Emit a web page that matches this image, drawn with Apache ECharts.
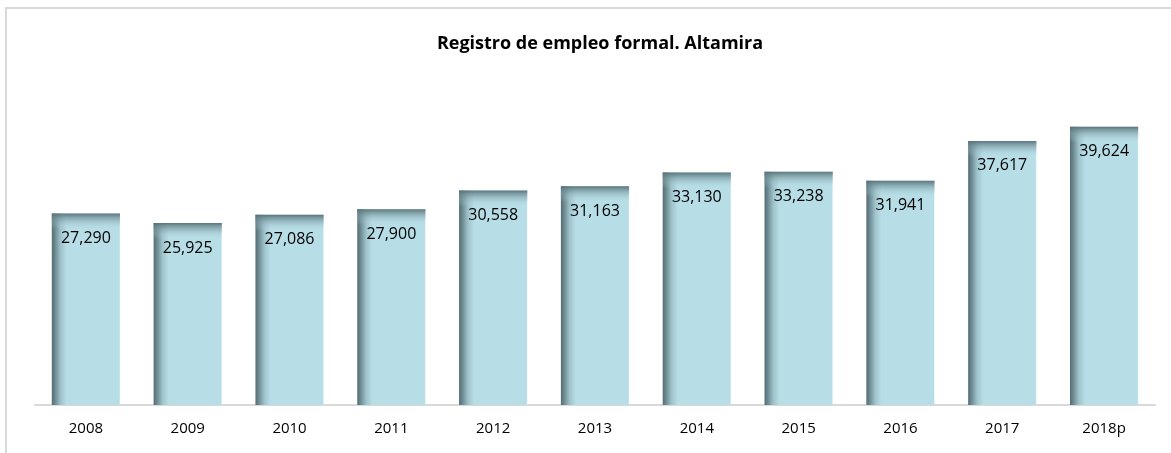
<!DOCTYPE html>
<html>
<head>
<meta charset="utf-8">
<script src="https://cdn.jsdelivr.net/npm/echarts@6/dist/echarts.min.js"></script>
<style>
  html, body { margin: 0; padding: 0; background: #ffffff; }
  #chart { width: 1171px; height: 453px; }
</style>
</head>
<body>
<div id="chart"></div>
<script>
// Formal employment records, Altamira
const years = ['2008', '2009', '2010', '2011', '2012', '2013', '2014', '2015', '2016', '2017', '2018p'];
const empleo = [27290, 25925, 27086, 27900, 30558, 31163, 33130, 33238, 31941, 37617, 39624];

const fmt = v => v.toLocaleString('en-US');
const FONT = '"Open Sans", "Noto Sans", sans-serif';

const chart = echarts.init(document.getElementById('chart'), null, { renderer: 'canvas' });

// Bars with a shaded left edge and a darker bevelled top
function renderBar(params, api) {
  const idx = api.value(0);
  const val = api.value(1);
  const top = api.coord([idx, val]);
  const base = api.coord([idx, 0]);
  const w = api.size([1, 0])[0] * 0.67;
  const x = top[0] - w / 2;
  const h = base[1] - top[1];
  return {
    type: 'group',
    children: [
      {
        type: 'rect',
        shape: { x: x, y: top[1], width: w, height: h },
        style: {
          fill: new echarts.graphic.LinearGradient(0, 0, 1, 0, [
            { offset: 0, color: '#536c74' },
            { offset: 0.05, color: '#6e8b92' },
            { offset: 0.13, color: '#9fc3cb' },
            { offset: 0.22, color: '#b7dde6' },
            { offset: 0.985, color: '#b7dde6' },
            { offset: 1, color: '#d3eef3' }
          ])
        }
      },
      {
        type: 'rect',
        shape: { x: x, y: top[1], width: w, height: 16 },
        style: {
          fill: new echarts.graphic.LinearGradient(0, 0, 0, 1, [
            { offset: 0, color: 'rgba(86,112,120,0.95)' },
            { offset: 0.35, color: 'rgba(120,150,157,0.6)' },
            { offset: 1, color: 'rgba(183,221,230,0)' }
          ])
        }
      },
      {
        type: 'text',
        style: {
          text: fmt(val),
          x: top[0],
          y: top[1] + 25,
          align: 'center',
          verticalAlign: 'middle',
          fill: '#000000',
          font: '16px ' + FONT
        }
      }
    ]
  };
}

chart.setOption({
  animation: false,
  backgroundColor: '#ffffff',
  title: {
    text: 'Registro de empleo formal. Altamira',
    left: 595,
    textAlign: 'center',
    top: 30,
    textStyle: { fontFamily: FONT, fontSize: 18, fontWeight: 'bold', color: '#000000' }
  },
  graphic: [
    {
      type: 'rect',
      shape: { x: 6, y: 8, width: 1200, height: 500 },
      style: { fill: 'none', stroke: '#d9d9d9', lineWidth: 2 },
      z: -1
    }
  ],
  grid: { left: 35, right: 16, top: 54, bottom: 48 },
  xAxis: {
    type: 'category',
    data: years,
    axisLine: { lineStyle: { color: '#d9d9d9', width: 2 } },
    axisTick: { show: false },
    axisLabel: { color: '#000000', fontFamily: FONT, fontSize: 15, margin: 16 }
  },
  yAxis: {
    type: 'value',
    min: 0,
    max: 50000,
    show: false,
    splitLine: { show: false }
  },
  series: [
    {
      type: 'custom',
      renderItem: renderBar,
      encode: { x: 0, y: 1 },
      data: empleo.map((v, i) => [i, v])
    }
  ]
});
</script>
</body>
</html>
